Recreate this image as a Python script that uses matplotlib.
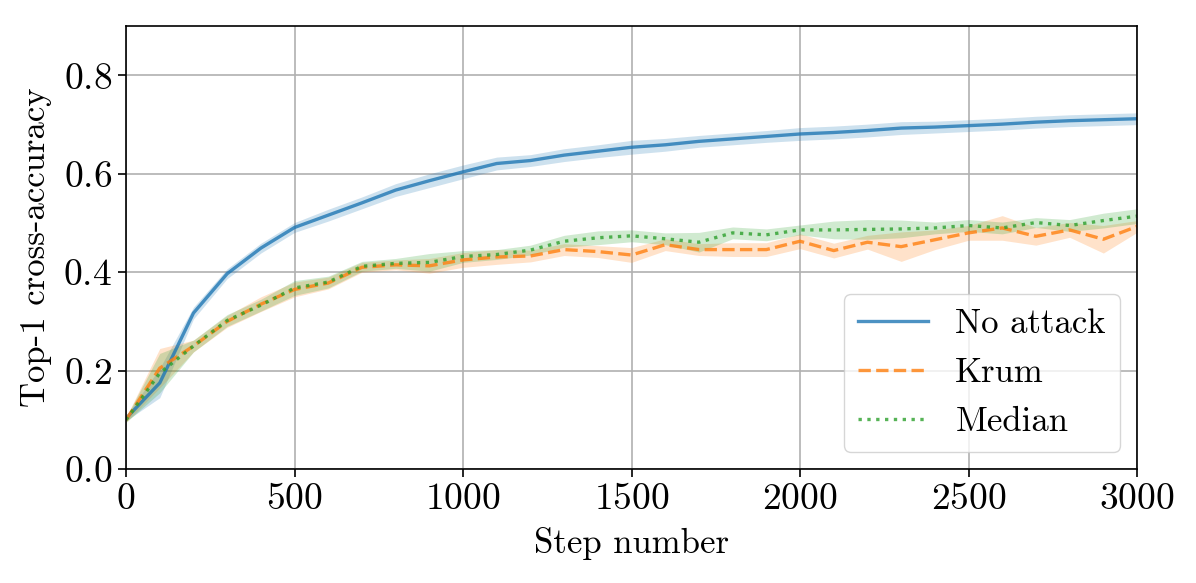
import matplotlib
matplotlib.use("Agg")
import matplotlib.pyplot as plt
import numpy as np

plt.rcParams['font.family'] = ['cmr10', 'DejaVu Serif']
plt.rcParams['axes.formatter.use_mathtext'] = True
plt.rcParams['mathtext.fontset'] = 'cm'

steps = list(range(0, 3001, 100))

no_attack = [0.103, 0.175, 0.317, 0.397, 0.449, 0.491, 0.516, 0.541, 0.567, 0.586,
             0.604, 0.621, 0.627, 0.638, 0.646, 0.654, 0.659, 0.666, 0.671, 0.676,
             0.681, 0.684, 0.688, 0.693, 0.695, 0.698, 0.701, 0.705, 0.708, 0.710,
             0.712]
no_attack_std = [0.005, 0.03, 0.012, 0.01, 0.01, 0.01, 0.012, 0.012, 0.013, 0.014,
                 0.014, 0.013, 0.012, 0.013, 0.013, 0.014, 0.013, 0.012, 0.012, 0.012,
                 0.013, 0.013, 0.013, 0.013, 0.012, 0.012, 0.012, 0.012, 0.012, 0.012,
                 0.012]

krum = [0.100, 0.205, 0.250, 0.300, 0.335, 0.365, 0.378, 0.410, 0.415, 0.413,
        0.425, 0.431, 0.433, 0.446, 0.442, 0.435, 0.456, 0.446, 0.446, 0.446,
        0.463, 0.444, 0.461, 0.452, 0.466, 0.480, 0.490, 0.473, 0.486, 0.467,
        0.493]
krum_std = [0.005, 0.04, 0.012, 0.012, 0.015, 0.015, 0.012, 0.01, 0.01, 0.015,
            0.015, 0.015, 0.012, 0.012, 0.012, 0.015, 0.012, 0.012, 0.014, 0.014,
            0.015, 0.015, 0.014, 0.03, 0.02, 0.015, 0.025, 0.018, 0.015, 0.028,
            0.012]

median = [0.100, 0.195, 0.250, 0.302, 0.333, 0.368, 0.380, 0.412, 0.418, 0.420,
          0.432, 0.436, 0.445, 0.463, 0.470, 0.474, 0.468, 0.461, 0.480, 0.476,
          0.486, 0.486, 0.487, 0.488, 0.490, 0.495, 0.490, 0.501, 0.495, 0.505,
          0.514]
median_std = [0.005, 0.04, 0.012, 0.012, 0.012, 0.015, 0.012, 0.01, 0.01, 0.018,
              0.012, 0.01, 0.01, 0.012, 0.014, 0.012, 0.012, 0.02, 0.012, 0.012,
              0.01, 0.018, 0.02, 0.018, 0.012, 0.012, 0.012, 0.01, 0.012, 0.015,
              0.015]

labels = ["No attack", "Krum", "Median"]

fig = plt.figure(figsize=(11.96, 5.83), dpi=100)
ax = fig.add_axes([0.1054, 0.1955, 0.8453, 0.7595])

series = [(no_attack, no_attack_std, '-', 'tab:blue'),
          (krum, krum_std, '--', 'tab:orange'),
          (median, median_std, ':', 'tab:green')]

x = np.array(steps)
for (vals, std, ls, col), lab in zip(series, labels):
    v = np.array(vals)
    s = np.array(std)
    ax.fill_between(x, v - s, v + s, color=col, alpha=0.22, linewidth=0)
    ax.plot(x, v, ls, color=col, linewidth=2.4, alpha=0.8, label=lab)

ax.set_xlim(0, 3000)
ax.set_ylim(0, 0.9)
ax.set_xticks([0, 500, 1000, 1500, 2000, 2500, 3000])
ax.set_yticks([0.0, 0.2, 0.4, 0.6, 0.8])
ax.grid(True, color='#b0b0b0', linewidth=1.2)
ax.set_axisbelow(True)
ax.tick_params(labelsize=27, length=6, width=1.2, pad=4)
for sp in ax.spines.values():
    sp.set_linewidth(1.2)
ax.set_xlabel("Step number", fontsize=25, labelpad=8)
ax.set_ylabel("Top-1 cross-accuracy", fontsize=25, labelpad=8)
ax.legend(loc='lower right', fontsize=25, borderaxespad=0.5)

fig.savefig("out.png", dpi=100)
